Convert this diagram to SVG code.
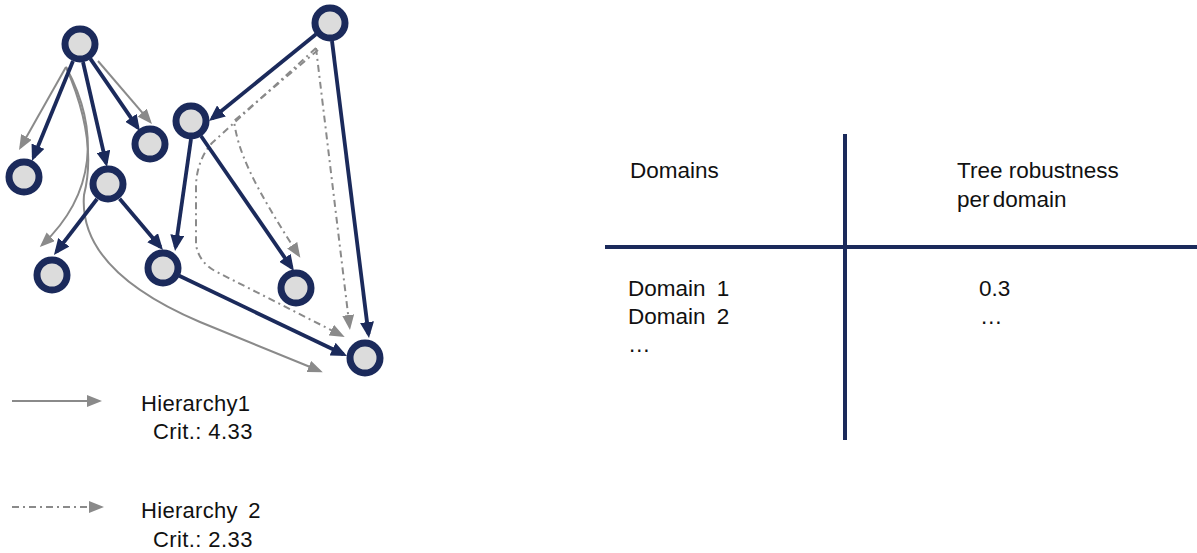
<svg xmlns="http://www.w3.org/2000/svg" width="1197" height="553" viewBox="0 0 1197 553">
<style>
.node{fill:#dcdcdc;stroke:#1b2a5b;stroke-width:7}
.e{fill:none;stroke:#1b2a5b;stroke-width:3.8;marker-end:url(#an)}
.g{fill:none;stroke:#8a8a8a;stroke-width:2;marker-end:url(#ag)}
.d{fill:none;stroke:#8a8a8a;stroke-width:2;stroke-dasharray:7 4 2 4;marker-end:url(#ag)}
.grid{stroke:#1b2a5b;stroke-width:4;fill:none}
text{font-family:"Liberation Sans",Arial,sans-serif;font-size:22px;fill:#111}
.t{font-size:22.5px}
</style>
<defs>
<marker id="an" markerUnits="userSpaceOnUse" markerWidth="16" markerHeight="14" viewBox="0 0 16 14" refX="12" refY="7" orient="auto"><path d="M0,0 L16,7 L0,14 z" fill="#1b2a5b"/></marker>
<marker id="ag" markerUnits="userSpaceOnUse" markerWidth="15" markerHeight="12" viewBox="0 0 15 12" refX="12" refY="6" orient="auto"><path d="M0,0 L15,6 L0,12 z" fill="#8a8a8a"/></marker>
</defs>
<g id="connectors">
<path class="g" d="M66,67 L20.5,147.4"/>
<path class="g" d="M98,61 L150,121.7"/>
<path class="g" d="M66,67 C100,130 96,194 42,245"/>
<path class="g" d="M66,67 Q98,140 84,195 Q78,270 200,322 L320,371"/>
<path class="d" d="M316,48 L212,143 Q197,160 196,185 L196,245 Q199,262 215,271 L342,335.6"/>
<path class="d" d="M318,50 L234,121 C238,150 250,180 298.7,255.3"/>
<path class="d" d="M316,48 L349.6,327"/>
<path class="e" d="M73,61 L33.5,157.3"/>
<path class="e" d="M83,62 L106.1,163.1"/>
<path class="e" d="M90.3,58.7 L137.7,127.7"/>
<path class="e" d="M316,34.3 L212.1,118.5"/>
<path class="e" d="M191,139 L175.6,247"/>
<path class="e" d="M201,136 L291.7,267.7"/>
<path class="e" d="M97,199 L56.4,251.8"/>
<path class="e" d="M119.6,198.8 L160.4,246.9"/>
<path class="e" d="M179.2,275.8 L343.4,354.3"/>
<path class="e" d="M332,41 L368.5,334"/>
</g>
<g id="n1"><circle class="node" cx="80" cy="44" r="15"/></g>
<g id="n2"><circle class="node" cx="24" cy="177" r="15"/></g>
<g id="n3"><circle class="node" cx="150" cy="144" r="15"/></g>
<g id="n4"><circle class="node" cx="108" cy="184" r="15"/></g>
<g id="n5"><circle class="node" cx="191" cy="121" r="15"/></g>
<g id="n6"><circle class="node" cx="330" cy="23" r="15"/></g>
<g id="n7"><circle class="node" cx="52" cy="275" r="15"/></g>
<g id="n8"><circle class="node" cx="163" cy="268" r="15"/></g>
<g id="n9"><circle class="node" cx="296" cy="288" r="15"/></g>
<g id="n10"><circle class="node" cx="365" cy="358" r="15"/></g>
<g id="legend">
<path class="g" d="M12,401 L99,401"/>
<text x="141" y="411" style="letter-spacing:0.3px">Hierarchy1</text>
<text x="153" y="439" style="letter-spacing:0.4px">Crit.: 4.33</text>
<path class="d" d="M12,507 L101,507"/>
<text x="141" y="518" style="letter-spacing:0.3px;word-spacing:4px">Hierarchy 2</text>
<text x="153" y="547" style="letter-spacing:0.4px">Crit.: 2.33</text>
</g>
<g id="table">
<path class="grid" d="M845,134 L845,440 M605,247 L1197,247"/>
<text class="t" x="630" y="178">Domains</text>
<text class="t" x="957" y="178">Tree robustness</text>
<text class="t" x="957" y="207" style="word-spacing:-3px">per domain</text>
<text class="t" x="628" y="296" style="word-spacing:5px">Domain 1</text>
<text class="t" x="628" y="324" style="word-spacing:5px">Domain 2</text>
<text class="t" x="628" y="352">…</text>
<text class="t" x="979" y="296">0.3</text>
<text class="t" x="980" y="324">…</text>
</g>
</svg>
